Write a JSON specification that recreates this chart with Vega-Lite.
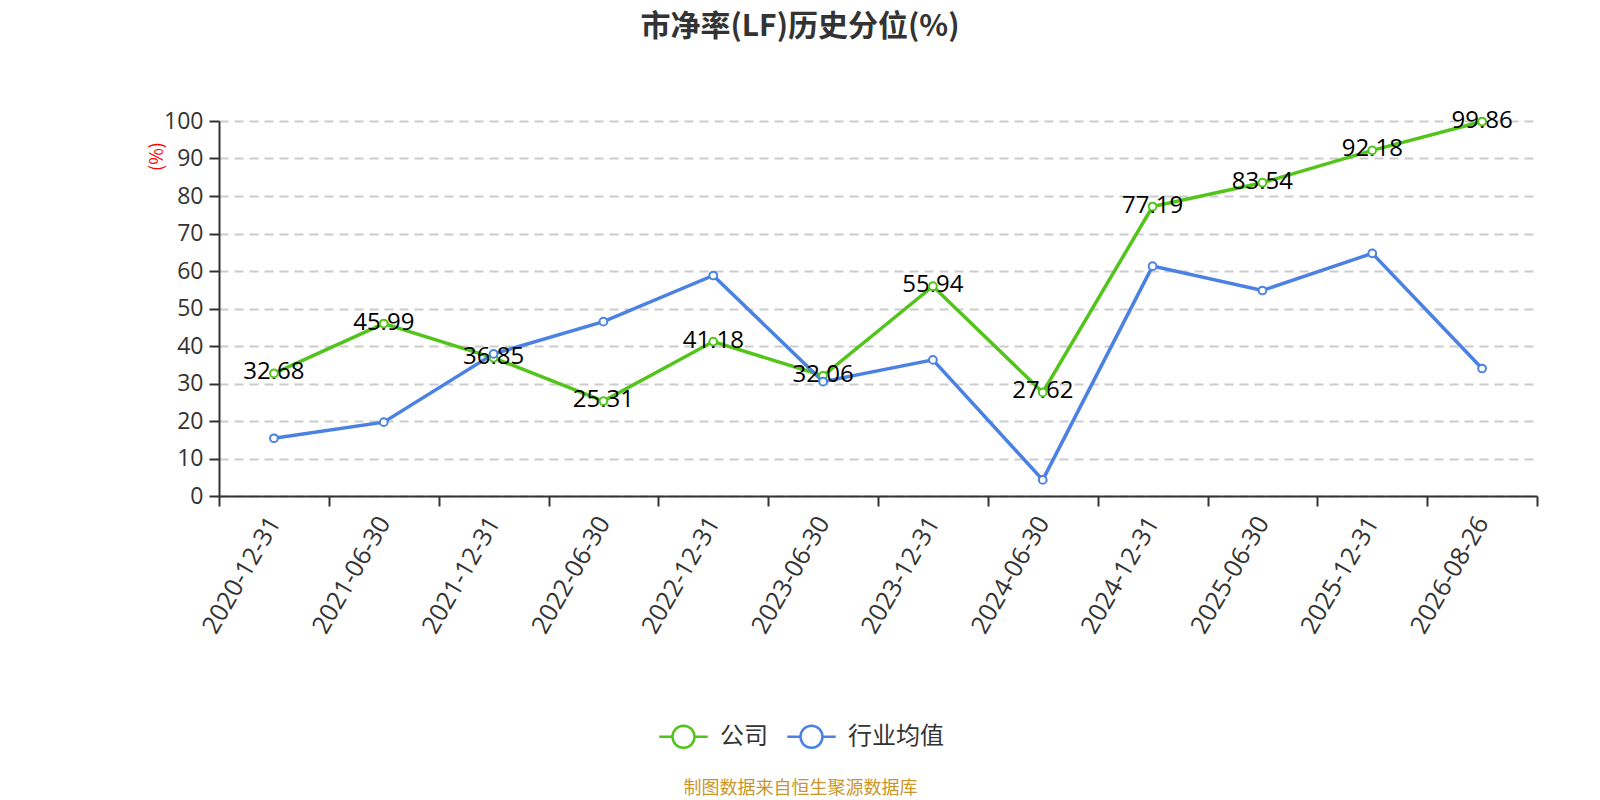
{
  "$schema": "https://vega.github.io/schema/vega-lite/v6.json",
  "width": 1318,
  "height": 375,
  "autosize": {"type": "none"},
  "padding": {"left": 219, "top": 121, "right": 63, "bottom": 304},
  "title": {
    "text": "市净率(LF)历史分位(%)",
    "fontSize": 30,
    "fontWeight": "bold",
    "color": "#333333",
    "font": "Noto Sans CJK SC",
    "anchor": "middle",
    "dx": -78,
    "offset": 67
  },
  "config": {
    "font": "Noto Sans CJK SC",
    "view": {"stroke": null},
    "axis": {
      "labelFont": "Open Sans",
      "labelColor": "#333333",
      "labelFontSize": 23,
      "domainColor": "#333333",
      "domainWidth": 2,
      "tickColor": "#333333",
      "tickWidth": 2,
      "tickSize": 10
    }
  },
  "data": {
    "values": [
      {"date": "2020-12-31", "series": "公司", "value": 32.68},
      {"date": "2021-06-30", "series": "公司", "value": 45.99},
      {"date": "2021-12-31", "series": "公司", "value": 36.85},
      {"date": "2022-06-30", "series": "公司", "value": 25.31},
      {"date": "2022-12-31", "series": "公司", "value": 41.18},
      {"date": "2023-06-30", "series": "公司", "value": 32.06},
      {"date": "2023-12-31", "series": "公司", "value": 55.94},
      {"date": "2024-06-30", "series": "公司", "value": 27.62},
      {"date": "2024-12-31", "series": "公司", "value": 77.19},
      {"date": "2025-06-30", "series": "公司", "value": 83.54},
      {"date": "2025-12-31", "series": "公司", "value": 92.18},
      {"date": "2026-08-26", "series": "公司", "value": 99.86},
      {"date": "2020-12-31", "series": "行业均值", "value": 15.4},
      {"date": "2021-06-30", "series": "行业均值", "value": 19.7},
      {"date": "2021-12-31", "series": "行业均值", "value": 37.9},
      {"date": "2022-06-30", "series": "行业均值", "value": 46.5},
      {"date": "2022-12-31", "series": "行业均值", "value": 58.8},
      {"date": "2023-06-30", "series": "行业均值", "value": 30.5},
      {"date": "2023-12-31", "series": "行业均值", "value": 36.3},
      {"date": "2024-06-30", "series": "行业均值", "value": 4.3},
      {"date": "2024-12-31", "series": "行业均值", "value": 61.3},
      {"date": "2025-06-30", "series": "行业均值", "value": 54.8},
      {"date": "2025-12-31", "series": "行业均值", "value": 64.7},
      {"date": "2026-08-26", "series": "行业均值", "value": 34.0}
    ]
  },
  "encoding": {
    "x": {
      "field": "date",
      "type": "ordinal",
      "sort": null,
      "bandPosition": 0.5,
      "scale": {"type": "band", "paddingInner": 0, "paddingOuter": 0},
      "axis": {
        "title": "制图数据来自恒生聚源数据库",
        "titleFont": "Noto Sans CJK SC",
        "titleFontSize": 18,
        "titleFontWeight": "normal",
        "titleColor": "#c9962b",
        "titleX": 581,
        "titleY": 292,
        "titleAlign": "center",
        "titleBaseline": "middle",
        "titleAngle": 0,
        "labelFontSize": 25,
        "labelAngle": -60,
        "labelAlign": "right",
        "labelBaseline": "middle",
        "labelPadding": 12,
        "tickBand": "extent",
        "grid": false
      }
    },
    "y": {
      "field": "value",
      "type": "quantitative",
      "scale": {"domain": [0, 100], "nice": false},
      "axis": {
        "values": [0, 10, 20, 30, 40, 50, 60, 70, 80, 90, 100],
        "title": "(%)",
        "titleFont": "Noto Sans CJK SC",
        "titleColor": "#ff0000",
        "titleFontSize": 18,
        "titleFontWeight": "normal",
        "titleAngle": -90,
        "titleX": -62,
        "titleY": 35,
        "titleAlign": "center",
        "titleBaseline": "middle",
        "labelPadding": 6,
        "grid": true,
        "gridColor": "#cccccc",
        "gridDash": [9, 6],
        "gridWidth": 2
      }
    },
    "color": {
      "field": "series",
      "type": "nominal",
      "scale": {"domain": ["公司", "行业均值"], "range": ["#52c41a", "#4a81e2"]},
      "legend": {
        "title": null,
        "orient": "none",
        "direction": "horizontal",
        "legendX": 452,
        "legendY": 603,
        "padding": 0,
        "symbolType": "M-2.2,0L-1,0M1,0L2.2,0M-1,0A1,1 0 1,0 1,0A1,1 0 1,0 -1,0",
        "symbolSize": 484,
        "symbolStrokeWidth": 2.5,
        "symbolFillColor": "white",
        "labelFontSize": 24,
        "labelColor": "#333333",
        "labelFont": "Noto Sans CJK SC",
        "labelOffset": 24,
        "columnPadding": 14
      }
    }
  },
  "layer": [
    {"mark": {"type": "line", "strokeWidth": 3.5}},
    {
      "transform": [{"filter": "datum.series === '公司'"}],
      "mark": {
        "type": "text",
        "font": "Open Sans",
        "fontSize": 24,
        "color": "#000000",
        "align": "center",
        "baseline": "middle",
        "dy": -1
      },
      "encoding": {
        "text": {"field": "value", "type": "quantitative", "format": ".2f"},
        "color": {"value": "#000000"}
      }
    },
    {
      "mark": {
        "type": "point",
        "filled": false,
        "fill": "white",
        "fillOpacity": 1,
        "opacity": 1,
        "size": 60,
        "strokeWidth": 2
      }
    }
  ]
}
